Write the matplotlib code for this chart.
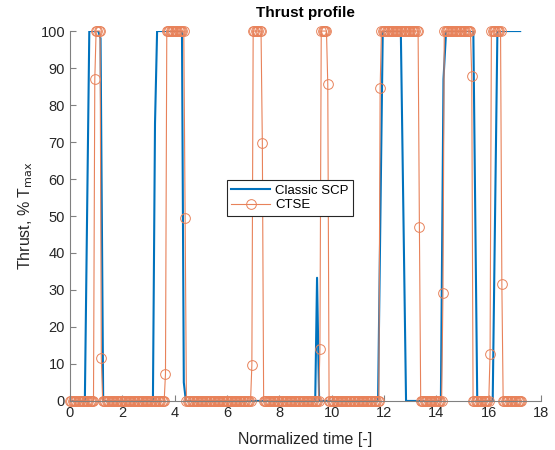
import numpy as np
import matplotlib
matplotlib.use("Agg")
import matplotlib.pyplot as plt

plt.rcParams['font.family'] = ['Liberation Sans', 'DejaVu Sans']

# Classic SCP thrust profile (piecewise linear)
scp_t = [0.0, 0.57, 0.74, 1.08, 1.17, 1.27, 3.17, 3.25, 3.33, 4.28, 4.35, 4.43,
         9.37, 9.44, 9.52, 11.77, 11.95, 12.64, 12.84, 14.17, 14.27, 14.37,
         15.41, 15.56, 16.15, 16.33, 17.2]
scp_v = [0, 0, 100, 100, 98, 0, 0, 75, 100, 100, 5, 0,
         0, 33.3, 0, 0, 100, 100, 0, 0, 87, 100,
         100, 0, 0, 100, 100]

# CTSE thrust, one sample every 0.05 of normalized time
ctse_dt = 0.05
ctse_v = ([0] * 19 + [87] + [100] * 4 + [11.5] + [0] * 48 + [7.3] + [100] * 14 + [49.5]
          + [0] * 50 + [9.7] + [100] * 7 + [69.8] + [0] * 43 + [14] + [100] * 5 + [85.6]
          + [0] * 39 + [84.6] + [100] * 29 + [47] + [0] * 17 + [29.2] + [100] * 21
          + [87.8] + [0] * 13 + [12.8] + [100] * 8 + [31.6] + [0] * 15)
ctse_t = np.arange(len(ctse_v)) * ctse_dt

fig = plt.figure(figsize=(5.55, 4.5), dpi=100)
ax = fig.add_axes([0.126, 0.109, 0.849, 0.822])

ax.plot(scp_t, scp_v, color='#0072BD', linewidth=1.5, label='Classic SCP')
ax.plot(ctse_t, ctse_v, color='#E8825A', linewidth=0.8, marker='o', markersize=7,
        markerfacecolor='none', markeredgewidth=0.7, label='CTSE', clip_on=False)

ax.set_xlim(0, 18)
ax.set_ylim(0, 100)
ax.set_xticks(np.arange(0, 19, 2))
ax.set_yticks(np.arange(0, 101, 10))
for s in ['top', 'right']:
    ax.spines[s].set_visible(False)
for s in ['left', 'bottom']:
    ax.spines[s].set_color('#808080')
ax.tick_params(direction='in', length=4, color='#808080', labelsize=10.5, labelcolor='#262626')

ax.set_title('Thrust profile', fontsize=11, fontweight='bold', pad=10)
ax.set_xlabel('Normalized time [-]', fontsize=11.5, color='#262626', labelpad=9)
ax.set_ylabel('Thrust, % T$_{\\rm max}$', fontsize=11.5, color='#262626')

leg = ax.legend(loc='lower left', bbox_to_anchor=(0.333, 0.5), fontsize=9.5,
                fancybox=False, edgecolor='#262626', framealpha=1,
                borderpad=0.35, handlelength=2.9, handletextpad=0.4,
                labelspacing=0.2, borderaxespad=0)
leg.get_frame().set_linewidth(0.8)

fig.savefig('out.png', dpi=100)
